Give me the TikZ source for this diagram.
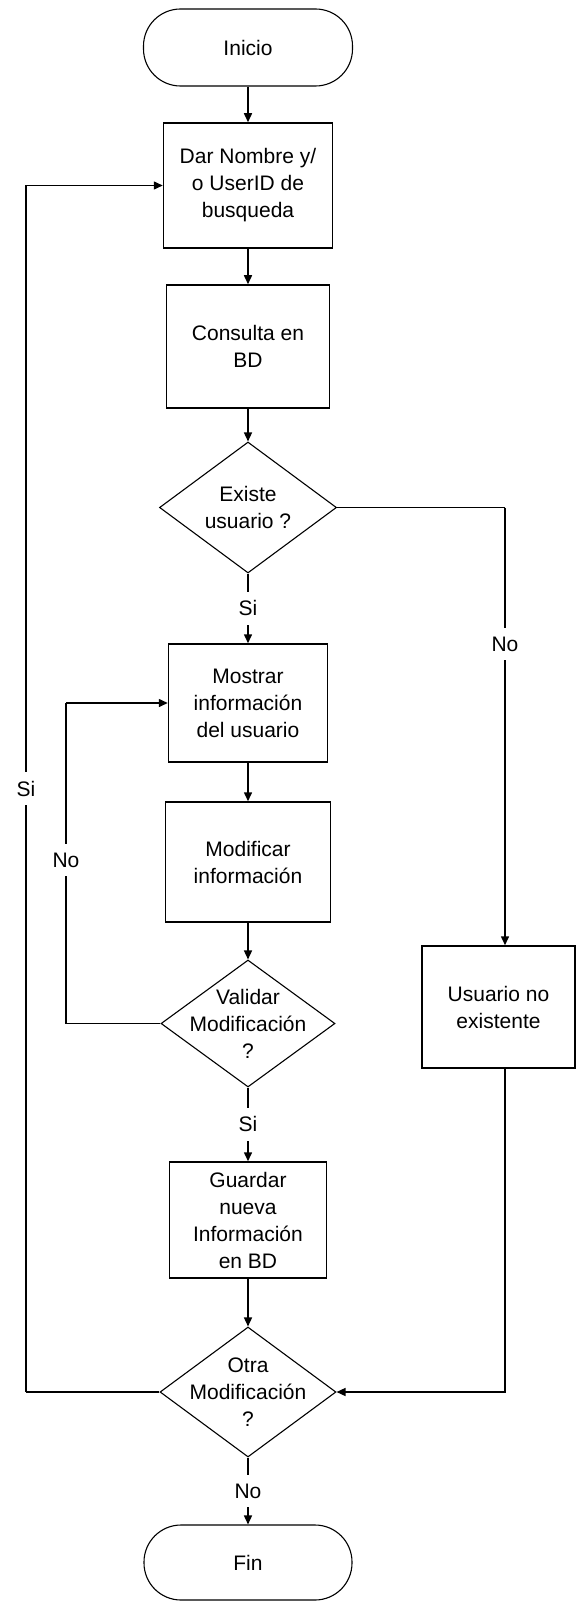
\documentclass[tikz,border=0pt]{standalone}
\usepackage{fontspec}
\setmainfont{Liberation Sans}
\usetikzlibrary{shapes.geometric,arrows.meta,calc}
\begin{document}
\begin{tikzpicture}[x=1pt,y=-1pt,
  every node/.style={font=\fontsize{21}{27}\selectfont},
  proc/.style={draw,line width=1.5pt,rectangle,align=center,inner sep=0pt},
  term/.style={draw,line width=1.1pt,rectangle,rounded corners=37pt,inner sep=0pt},
  dec/.style={draw,line width=1.1pt,diamond,inner sep=0pt},
  dectext/.style={align=center,inner sep=0pt},
  flow/.style={line width=1.5pt,-{Triangle[length=9pt,width=8pt]}},
  link/.style={line width=1.5pt},
  tag/.style={fill=white,inner xsep=2pt,inner ysep=9pt}
]
\useasboundingbox (0,0) rectangle (576,1602);
\fill[white] (0,0) rectangle (576,1602);

% main column
\node[term,minimum width=209pt,minimum height=77pt] (inicio) at (248,47.5) {Inicio};
\node[proc,minimum width=169pt,minimum height=125pt] (b1) at (248,185.5) {Dar Nombre y/\\o UserID de\\busqueda};
\node[proc,minimum width=163pt,minimum height=123pt] (b2) at (248,346.5) {Consulta en\\BD};
\node[dec,minimum width=177pt,minimum height=131pt] (d1) at (248,507.5) {};
\node[dectext] (d1t) at (d1) {Existe\\usuario ?};
\node[proc,minimum width=159pt,minimum height=118pt] (b3) at (248,703) {Mostrar\\información\\del usuario};
\node[proc,minimum width=165pt,minimum height=120pt] (b4) at (248,862) {Modificar\\información};
\node[dec,minimum width=174pt,minimum height=127pt] (d2) at (248,1023.5) {};
\node[dectext] (d2t) at (d2) {Validar\\Modificación\\?};
\node[proc,minimum width=157pt,minimum height=116pt] (b5) at (248,1220) {Guardar\\nueva\\Información\\en BD};
\node[dec,minimum width=176pt,minimum height=130pt] (d3) at (248,1392) {};
\node[dectext] (d3t) at (d3) {Otra\\Modificación\\?};
\node[term,minimum width=208pt,minimum height=75pt] (fin) at (248,1562.5) {Fin};

% side branch
\node[proc,minimum width=153pt,minimum height=122pt] (b6) at (498.5,1007) {Usuario no\\existente};

% routing points
\coordinate (rx) at (505,507.5);
\coordinate (lx) at (26,1392);
\coordinate (ix) at (66,1023.5);

% straight flow
\draw[flow] (inicio) -- (b1);
\draw[flow] (b1) -- (b2);
\draw[flow] (b2) -- (d1);
\draw[flow] (d1.south) -- node[tag]{Si} (b3.north);
\draw[flow] (b3) -- (b4);
\draw[flow] (b4) -- (d2);
\draw[flow] (d2.south) -- node[tag]{Si} (b5.north);
\draw[flow] (b5) -- (d3);
\draw[flow] (d3.south) -- node[tag]{No} (fin.north);

% user not found
\draw[link] (d1.east) -- (rx);
\draw[flow] (rx) -- node[tag,pos=0.312]{No} (rx |- b6.north);
\draw[flow] (rx |- b6.south) -- (rx |- d3.east) -- (d3.east);

% another modification: back to the search
\draw[link] (d3.west) -- (lx);
\draw[link] (lx) -- node[tag,pos=0.5]{Si} (lx |- b1.west);
\draw[flow] (lx |- b1.west) -- (b1.west);

% modification not valid: back to the user data
\draw[link] (d2.west) -- (ix);
\draw[link] (ix) -- node[tag,pos=0.51]{No} (ix |- b3.west);
\draw[flow] (ix |- b3.west) -- (b3.west);
\end{tikzpicture}
\end{document}
